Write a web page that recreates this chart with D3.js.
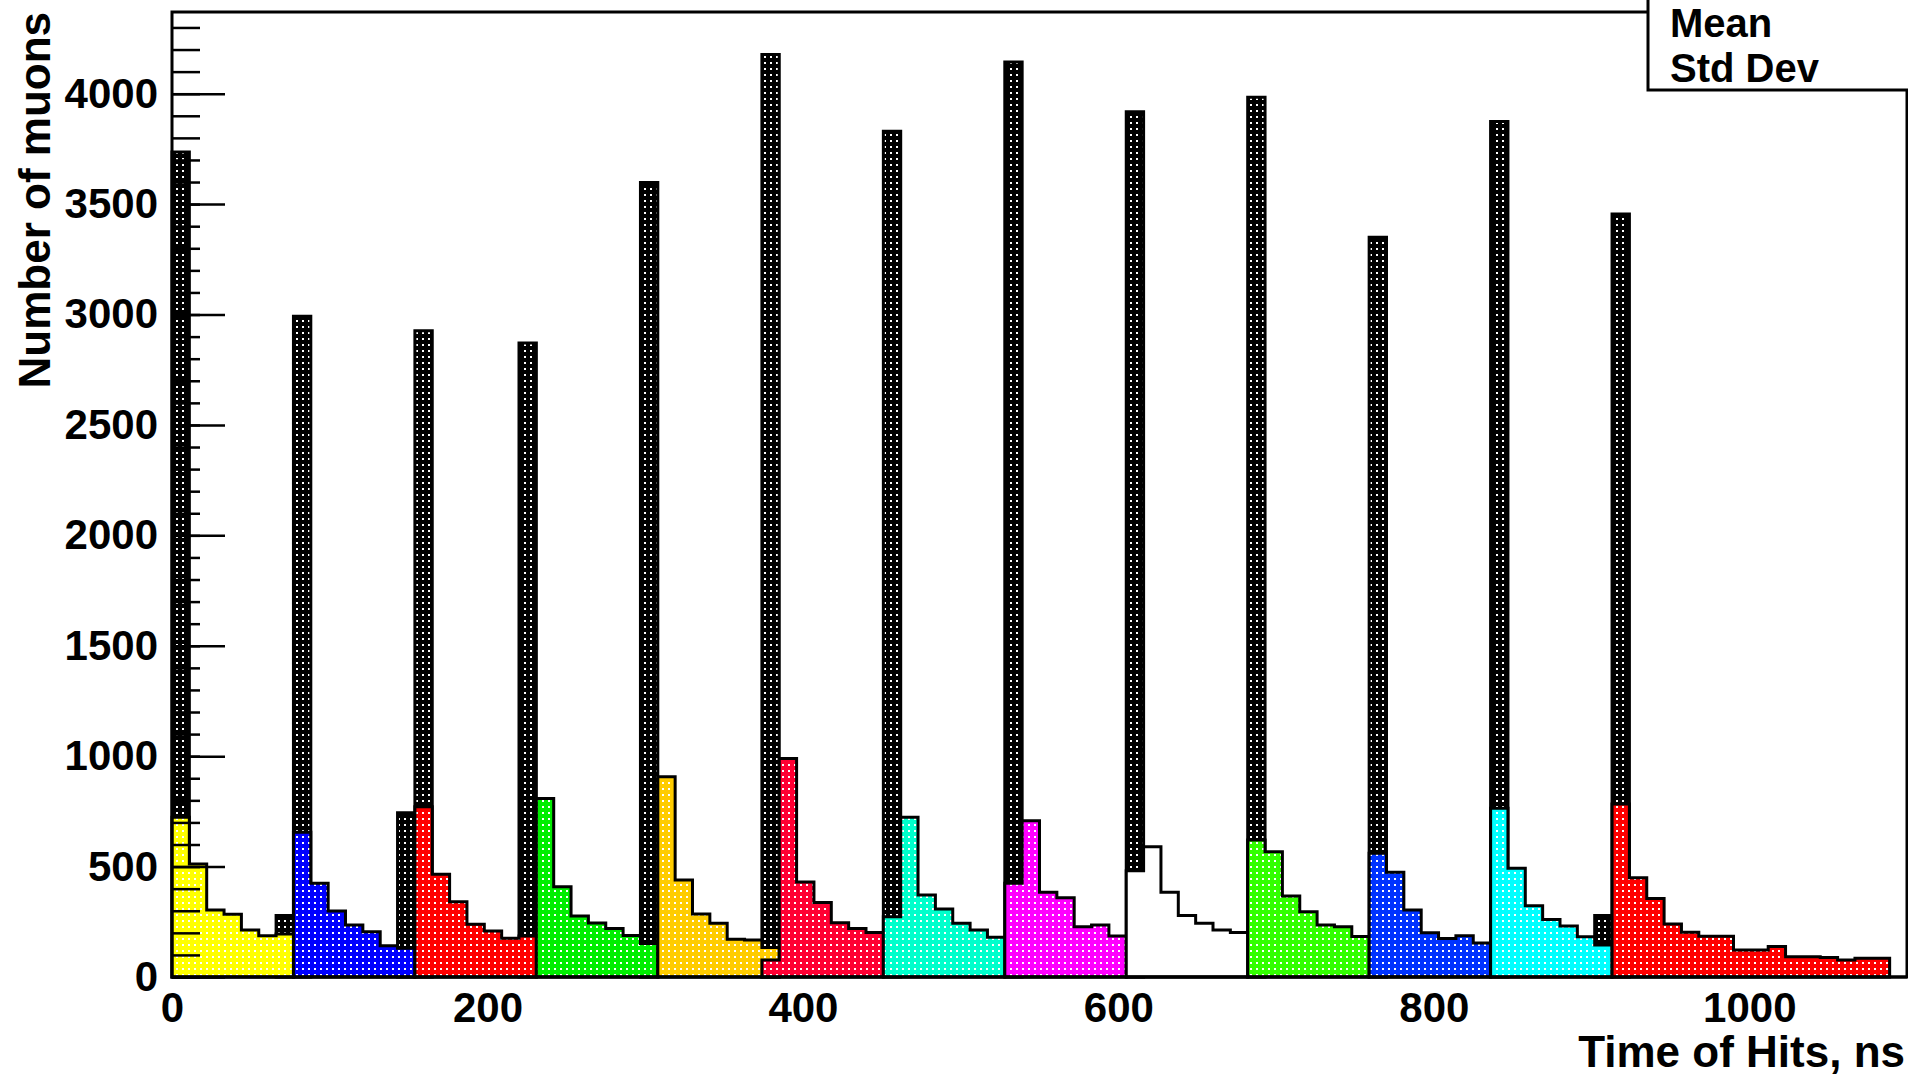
<!DOCTYPE html>
<html>
<head>
<meta charset="utf-8">
<script src="https://cdn.jsdelivr.net/npm/d3@7"></script>
<style>
html,body{margin:0;padding:0;background:#fff;overflow:hidden}
text{font-family:"Liberation Sans",Arial,Helvetica,sans-serif;font-weight:bold;fill:#000}
</style>
</head>
<body>
<svg id="chart" width="1908" height="1076"></svg>
<script>
// ---------------- data ----------------
const binWidth = 11;                 // ns per bin
const xDomain = [0, 1100];
const yDomain = [0, 4370];
const xTickValues = [0, 200, 400, 600, 800, 1000];
const yMajorTicks = [0, 500, 1000, 1500, 2000, 2500, 3000, 3500, 4000];
const yMinorTicks = d3.range(0, 4400, 100);
const xTitle = "Time of Hits, ns";
const yTitle = "Number of muons";
const statsLabels = ["Mean", "Std Dev"];

// black (all hits) histogram: bin index -> counts
const allHitsBins   = [0, 6, 7, 13, 14, 20, 27, 34, 41, 48, 55, 62, 69, 76, 82, 83];
const allHitsValues = [3736, 278, 2992, 744, 2926, 2871, 3598, 4177, 3830, 4144, 3918, 3984, 3350, 3874, 278, 3455];

// coloured per-bunch histograms
const groupColors = ["#ffff00", "#0000ff", "#ff0000", "#00ee00", "#ffcc00", "#ff0033",
                     "#00ffcc", "#ff00ff", "#ffffff", "#33ff00", "#0033ff", "#00ffff", "#ff0000"];
const groupStartBins = [0, 7, 14, 21, 28, 34, 41, 48, 55, 62, 69, 76, 83];
const bunch1  = [723, 512, 303, 284, 213, 187, 195];
const bunch2  = [655, 424, 299, 236, 205, 142, 130];
const bunch3  = [771, 465, 341, 239, 208, 175, 186];
const bunch4  = [808, 409, 276, 245, 220, 188, 152];
const bunch5  = [907, 439, 285, 243, 171, 168, 134];
const bunch6  = [77, 990, 430, 337, 246, 220, 202];
const bunch7  = [273, 723, 371, 308, 243, 213, 180];
const bunch8  = [424, 708, 384, 359, 228, 236, 186];
const bunch9  = [481, 590, 384, 278, 243, 213, 202];
const bunch10 = [620, 567, 367, 296, 236, 228, 183];
const bunch11 = [560, 474, 303, 200, 174, 187, 154];
const bunch12 = [764, 492, 323, 260, 231, 182, 145];
const bunch13 = [783, 450, 356, 240, 203, 185, 185, 122, 122, 138, 92, 92, 88, 77, 85, 85];
const bunches = [bunch1, bunch2, bunch3, bunch4, bunch5, bunch6, bunch7,
                 bunch8, bunch9, bunch10, bunch11, bunch12, bunch13];

// ---------------- drawing ----------------
const svg = d3.select("#chart");
const plot = {left: 172, right: 1907, top: 12, bottom: 977};
const x = d3.scaleLinear().domain(xDomain).range([plot.left, plot.right]);
const y = d3.scaleLinear().domain(yDomain).range([plot.bottom, plot.top]);
const fmt = d3.format("d");

svg.append("rect").attr("width", 1908).attr("height", 1076).attr("fill", "#fff");

// dotted fill patterns
const defs = svg.append("defs");
function makePattern(id, color) {
  const p = defs.append("pattern").attr("id", id)
    .attr("patternUnits", "userSpaceOnUse").attr("width", 6).attr("height", 6);
  p.append("rect").attr("width", 6).attr("height", 6).attr("fill", color);
  if (color !== "#ffffff") {
    p.append("rect").attr("x", 2).attr("y", 2).attr("width", 2).attr("height", 2).attr("fill", "#fff");
  }
}
makePattern("pat-black", "#000");
groupColors.forEach((c, i) => makePattern("pat-" + i, c));

function stepPath(startBin, values) {
  let d = `M${x(startBin * binWidth)},${y(0)}`;
  values.forEach((v, i) => {
    d += `V${y(v)}H${x((startBin + i + 1) * binWidth)}`;
  });
  d += `V${y(0)}Z`;
  return d;
}

const hist = svg.append("g");

// black histogram, one bar per filled bin
hist.selectAll("path.all")
  .data(allHitsBins.map((b, i) => ({b, v: allHitsValues[i]})))
  .join("path")
  .attr("class", "all")
  .attr("d", d => stepPath(d.b, [d.v]))
  .attr("fill", "url(#pat-black)")
  .attr("stroke", "#000").attr("stroke-width", 3).attr("stroke-linejoin", "miter");

// coloured histograms
hist.selectAll("path.bunch")
  .data(bunches.map((vals, i) => ({i, vals, start: groupStartBins[i]})))
  .join("path")
  .attr("class", "bunch")
  .attr("d", d => stepPath(d.start, d.vals))
  .attr("fill", d => `url(#pat-${d.i})`)
  .attr("stroke", "#000").attr("stroke-width", 3).attr("stroke-linejoin", "miter");

// frame
svg.append("path")
  .attr("d", `M${plot.left},${plot.bottom}V${plot.top}H${plot.right}V${plot.bottom}Z`)
  .attr("fill", "none").attr("stroke", "#000").attr("stroke-width", 3);

// y axis minor ticks
svg.append("g").attr("transform", `translate(${plot.left},0)`)
  .call(d3.axisLeft(y).tickValues(yMinorTicks).tickSizeInner(-28).tickSizeOuter(0).tickFormat(""))
  .call(g => g.select(".domain").remove())
  .call(g => g.selectAll("line").attr("stroke-width", 2.5));

// y axis major ticks + labels
svg.append("g").attr("transform", `translate(${plot.left},0)`)
  .call(d3.axisLeft(y).tickValues(yMajorTicks).tickSizeInner(-53).tickSizeOuter(0).tickPadding(14).tickFormat(fmt))
  .call(g => g.select(".domain").remove())
  .call(g => g.selectAll("line").attr("stroke-width", 2.5))
  .call(g => g.selectAll("text").attr("font-size", 42).attr("fill", "#000")
              .attr("font-family", null).attr("font-weight", "bold"));

// x axis labels
svg.append("g").attr("transform", `translate(0,${plot.bottom})`)
  .call(d3.axisBottom(x).tickValues(xTickValues).tickSize(0).tickPadding(15).tickFormat(fmt))
  .call(g => g.select(".domain").remove())
  .call(g => g.selectAll("text").attr("font-size", 42).attr("fill", "#000")
              .attr("font-family", null).attr("font-weight", "bold"));

// bottom axis line on top
svg.append("line").attr("x1", plot.left).attr("x2", plot.right)
  .attr("y1", plot.bottom).attr("y2", plot.bottom).attr("stroke", "#000").attr("stroke-width", 3);

// titles
svg.append("text").attr("x", 1905).attr("y", 1067).attr("text-anchor", "end")
  .attr("font-size", 44).text(xTitle);
svg.append("text").attr("transform", "translate(50,12) rotate(-90)")
  .attr("text-anchor", "end").attr("font-size", 44).text(yTitle);

// stats box
svg.append("rect").attr("x", 1648).attr("y", -10).attr("width", 300).attr("height", 100)
  .attr("fill", "#fff").attr("stroke", "#000").attr("stroke-width", 3);
svg.selectAll("text.stat").data(statsLabels).join("text").attr("class", "stat")
  .attr("x", 1670).attr("y", (d, i) => 37 + i * 45).attr("font-size", 40).text(d => d);
</script>
</body>
</html>
